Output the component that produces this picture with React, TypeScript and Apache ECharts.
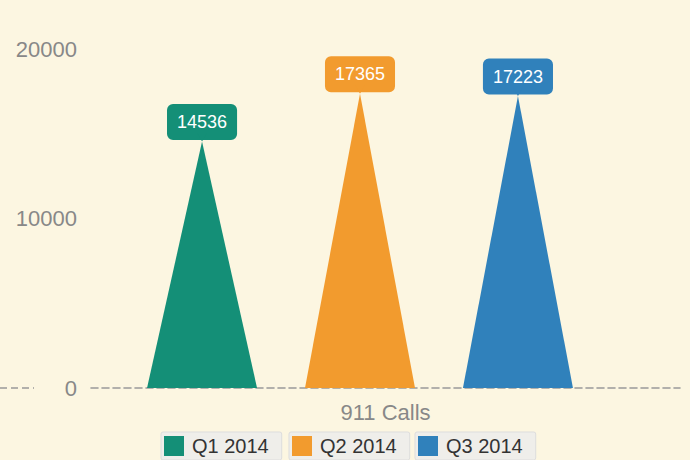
import React, { useEffect, useRef } from "react";
import * as echarts from "echarts";

const categories = ["911 Calls"];
const seriesNames = ["Q1 2014", "Q2 2014", "Q3 2014"];
const q1Values = [14536];
const q2Values = [17365];
const q3Values = [17223];
const seriesValues = [q1Values, q2Values, q3Values];
const colors = ["#148F77", "#F29B2E", "#3081BB"];
const yMin = 0;
const yMax = 20000;
const yInterval = 10000;

const FONT = "'Liberation Sans', Arial, Helvetica, sans-serif";

function arrowImage(color: string) {
  const svg = `<svg xmlns='http://www.w3.org/2000/svg' width='10' height='9'><polygon points='0,0 10,0 5,9' fill='${color}'/></svg>`;
  return "data:image/svg+xml;charset=utf-8," + encodeURIComponent(svg);
}

export default function App() {
  const ref = useRef<HTMLDivElement>(null);
  useEffect(() => {
    document.body.style.margin = "0";
    if (!ref.current) return;
    const chart = echarts.init(ref.current, null, { renderer: "svg" });
    const dashStyle = { color: "#999999", width: 1.6, type: [7, 4] as any };
    const legendLefts = [161, 289, 415];
    const option: any = {
      animation: false,
      backgroundColor: "#FCF6E1",
      textStyle: { fontFamily: FONT },
      grid: { left: 91, right: 10, top: 49, bottom: 72, containLabel: false },
      legend: seriesNames.map((n, i) => ({
        data: [n],
        left: legendLefts[i],
        top: 432,
        orient: "horizontal",
        selectedMode: false,
        icon: "rect",
        itemWidth: 20,
        itemHeight: 20,
        padding: [4, 13, 4, 3],
        backgroundColor: "#EFEEEA",
        borderColor: "#DDDDDD",
        borderWidth: 1,
        borderRadius: 2,
        textStyle: { fontSize: 20, color: "#333", fontFamily: FONT, padding: [0, 0, 0, 3] },
      })),
      xAxis: {
        type: "category",
        data: categories,
        axisLine: { show: true, lineStyle: dashStyle },
        axisTick: { show: false },
        axisLabel: { fontSize: 22, color: "#888", margin: 13, fontFamily: FONT },
        splitLine: { show: false },
      },
      yAxis: {
        type: "value",
        min: yMin,
        max: yMax,
        interval: yInterval,
        axisLine: { show: false },
        axisTick: { show: false },
        splitLine: { show: false },
        axisLabel: {
          fontSize: 22,
          color: "#888",
          margin: 14,
          fontFamily: FONT,
          formatter: (v: number) => String(v),
        },
      },
      graphic: [
        {
          type: "line",
          shape: { x1: 0, y1: 388, x2: 34, y2: 388 },
          style: { stroke: "#999999", lineWidth: 1.6, lineDash: [7, 4] },
        },
      ],
      series: seriesNames.map((n, i) => ({
        name: n,
        type: "pictorialBar",
        data: seriesValues[i],
        symbol: "triangle",
        symbolSize: ["100%", "100%"],
        symbolOffset: [-25.5, 0],
        barWidth: 110,
        barGap: "43.6%",
        itemStyle: { color: colors[i] },
        label: {
          show: true,
          position: "top",
          distance: 0,
          offset: [-25.5, 0],
          formatter: "{v|{c}}\n{arr|}",
          rich: {
            v: {
              backgroundColor: colors[i],
              color: "#fff",
              fontSize: 18,
              fontFamily: FONT,
              padding: [9, 10, 9, 10],
              borderRadius: 6,
              lineHeight: 21,
            },
            arr: {
              width: 10,
              height: 9,
              lineHeight: 9,
              fontSize: 1,
              backgroundColor: { image: arrowImage(colors[i]) },
            },
          },
        },
      })),
    };
    chart.setOption(option);
    return () => chart.dispose();
  }, []);
  return (
    <div
      ref={ref}
      style={{ position: "fixed", left: 0, top: 0, width: 690, height: 460 }}
    />
  );
}
